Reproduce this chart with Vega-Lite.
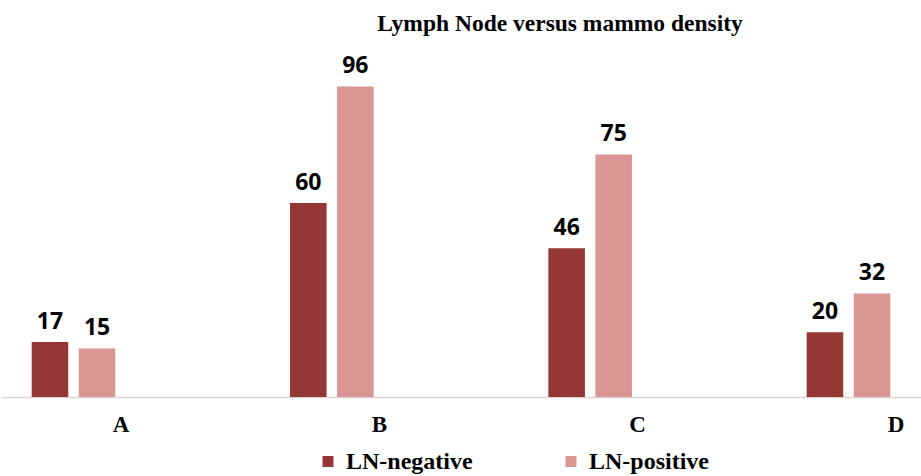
{
  "$schema": "https://vega.github.io/schema/vega-lite/v6.json",
  "width": 920,
  "height": 323.5,
  "autosize": {"type": "none"},
  "padding": {"left": 1, "top": 73.5, "right": 0, "bottom": 79},
  "background": "white",
  "title": {
    "text": "Lymph Node versus  mammo density",
    "font": "Liberation Serif",
    "fontSize": 23.5,
    "fontWeight": "bold",
    "color": "black",
    "offset": 20,
    "dx": 99,
    "anchor": "middle"
  },
  "data": {
    "values": [
      {"density": "A", "status": "LN-negative", "count": 17},
      {"density": "A", "status": "LN-positive", "count": 15},
      {"density": "B", "status": "LN-negative", "count": 60},
      {"density": "B", "status": "LN-positive", "count": 96},
      {"density": "C", "status": "LN-negative", "count": 46},
      {"density": "C", "status": "LN-positive", "count": 75},
      {"density": "D", "status": "LN-negative", "count": 20},
      {"density": "D", "status": "LN-positive", "count": 32}
    ]
  },
  "encoding": {
    "x": {
      "field": "density",
      "type": "nominal",
      "scale": {"paddingInner": 0.5, "paddingOuter": 0.0307},
      "axis": {
        "title": null,
        "labelAngle": 0,
        "domain": true,
        "domainColor": "#ddd2d2",
        "domainWidth": 1.5,
        "ticks": false,
        "grid": false,
        "labelFont": "Liberation Serif",
        "labelFontSize": 23,
        "labelFontWeight": "bold",
        "labelColor": "black",
        "labelOffset": 47.5,
        "labelPadding": 16
      }
    },
    "xOffset": {
      "field": "status",
      "type": "nominal",
      "sort": ["LN-negative", "LN-positive"],
      "scale": {"paddingInner": 0.223, "paddingOuter": 0.484}
    },
    "y": {
      "field": "count",
      "type": "quantitative",
      "scale": {"domain": [0, 100]},
      "axis": null
    }
  },
  "layer": [
    {
      "mark": {"type": "bar"},
      "encoding": {
        "color": {
          "field": "status",
          "type": "nominal",
          "sort": ["LN-negative", "LN-positive"],
          "scale": {"domain": ["LN-negative", "LN-positive"], "range": ["#953735", "#d99694"]},
          "legend": {
            "title": null,
            "orient": "none",
            "direction": "horizontal",
            "legendX": 315,
            "legendY": 376,
            "columnPadding": 86,
            "labelOffset": 6,
            "symbolType": "square",
            "symbolSize": 121,
            "symbolStrokeWidth": 0,
            "labelFont": "Liberation Serif",
            "labelFontSize": 24,
            "labelFontWeight": "bold",
            "labelColor": "black",
            "labelLimit": 300
          }
        }
      }
    },
    {
      "mark": {
        "type": "text",
        "baseline": "bottom",
        "dy": -8,
        "font": "Open Sans",
        "fontSize": 23,
        "fontWeight": "bold",
        "color": "black"
      },
      "encoding": {
        "text": {"field": "count", "type": "quantitative"}
      }
    }
  ],
  "config": {"view": {"stroke": null}}
}
